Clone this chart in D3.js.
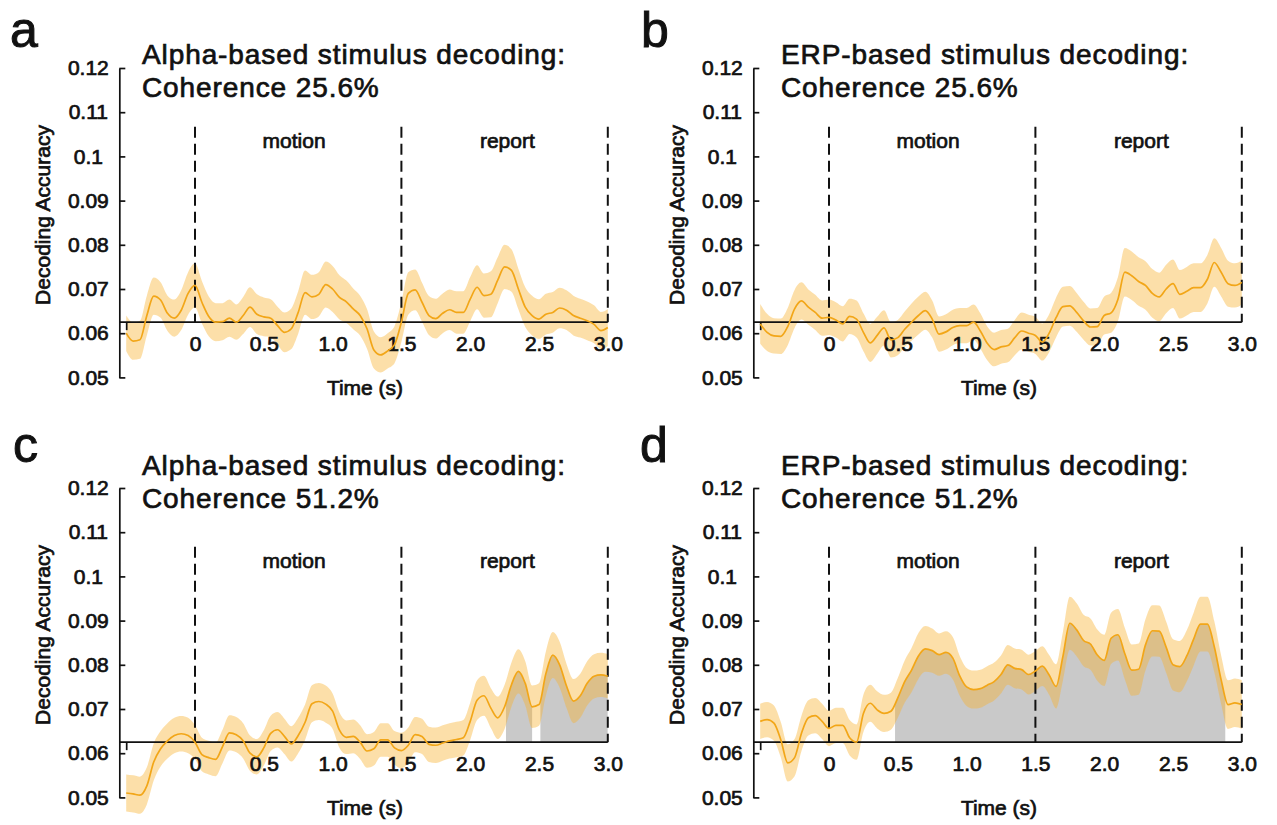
<!DOCTYPE html>
<html>
<head>
<meta charset="utf-8">
<script src="https://cdn.jsdelivr.net/npm/d3@7"></script>
<style>
  body { margin: 0; background: #fff; }
  text { font-family: "Liberation Sans", Arial, sans-serif; fill: #111; stroke: #111; stroke-width: 0.7px; }
</style>
</head>
<body>
<script>
// time grid (s)
const times = [-0.5,-0.45,-0.4,-0.35,-0.3,-0.25,-0.2,-0.15,-0.1,-0.05,
  0,0.05,0.1,0.15,0.2,0.25,0.3,0.35,0.4,0.45,
  0.5,0.55,0.6,0.65,0.7,0.75,0.8,0.85,0.9,0.95,
  1,1.05,1.1,1.15,1.2,1.25,1.3,1.35,1.4,1.45,
  1.5,1.55,1.6,1.65,1.7,1.75,1.8,1.85,1.9,1.95,
  2,2.05,2.1,2.15,2.2,2.25,2.3,2.35,2.4,2.45,
  2.5,2.55,2.6,2.65,2.7,2.75,2.8,2.85,2.9,2.95,3]

// a: alpha, 25.6%
const meanA = [0.0600,0.0582,0.0585,0.0640,0.0684,0.0675,0.0645,0.0634,0.0652,0.0690,
  0.0708,0.0670,0.0638,0.0625,0.0626,0.0634,0.0625,0.0640,0.0659,0.0643,
  0.0637,0.0634,0.0617,0.0602,0.0610,0.0647,0.0692,0.0682,0.0688,0.0710,
  0.0700,0.0681,0.0671,0.0655,0.0640,0.0610,0.0562,0.0551,0.0560,0.0574,
  0.0625,0.0690,0.0698,0.0670,0.0640,0.0633,0.0645,0.0653,0.0647,0.0647,
  0.0677,0.0704,0.0685,0.0688,0.0720,0.0750,0.0742,0.0700,0.0659,0.0640,
  0.0632,0.0643,0.0647,0.0657,0.0652,0.0640,0.0634,0.0628,0.0620,0.0606,0.0613]
const semA = [0.0040,0.0042,0.0043,0.0045,0.0042,0.0040,0.0040,0.0042,0.0045,0.0048,
  0.0050,0.0048,0.0045,0.0043,0.0042,0.0042,0.0040,0.0042,0.0045,0.0045,
  0.0044,0.0043,0.0043,0.0045,0.0046,0.0048,0.0050,0.0050,0.0050,0.0052,
  0.0052,0.0050,0.0048,0.0046,0.0045,0.0045,0.0042,0.0040,0.0040,0.0042,
  0.0045,0.0048,0.0046,0.0044,0.0044,0.0045,0.0045,0.0046,0.0048,0.0048,
  0.0050,0.0050,0.0050,0.0052,0.0052,0.0050,0.0048,0.0046,0.0045,0.0045,
  0.0045,0.0046,0.0046,0.0046,0.0045,0.0045,0.0044,0.0044,0.0043,0.0042,0.0042]

// b: ERP, 25.6%
const meanB = [0.0621,0.0602,0.0594,0.0593,0.0615,0.0655,0.0673,0.0659,0.0647,0.0634,
  0.0636,0.0630,0.0621,0.0638,0.0632,0.0602,0.0578,0.0595,0.0612,0.0585,
  0.0590,0.0609,0.0625,0.0640,0.0651,0.0632,0.0598,0.0603,0.0613,0.0617,
  0.0617,0.0625,0.0605,0.0577,0.0563,0.0569,0.0572,0.0590,0.0605,0.0600,
  0.0595,0.0580,0.0600,0.0635,0.0660,0.0662,0.0647,0.0628,0.0614,0.0615,
  0.0640,0.0646,0.0677,0.0738,0.0730,0.0717,0.0708,0.0690,0.0682,0.0700,
  0.0712,0.0688,0.0695,0.0703,0.0703,0.0722,0.0760,0.0738,0.0712,0.0708,0.0715]
const semB = [0.0045,0.0042,0.0040,0.0040,0.0042,0.0043,0.0042,0.0040,0.0040,0.0040,
  0.0040,0.0040,0.0040,0.0040,0.0042,0.0043,0.0043,0.0042,0.0040,0.0040,
  0.0040,0.0040,0.0042,0.0043,0.0043,0.0042,0.0040,0.0040,0.0040,0.0040,
  0.0040,0.0040,0.0040,0.0038,0.0038,0.0038,0.0038,0.0040,0.0042,0.0042,
  0.0042,0.0042,0.0043,0.0045,0.0045,0.0045,0.0044,0.0043,0.0042,0.0042,
  0.0043,0.0045,0.0050,0.0055,0.0055,0.0055,0.0055,0.0055,0.0055,0.0055,
  0.0055,0.0055,0.0055,0.0055,0.0055,0.0055,0.0055,0.0055,0.0052,0.0050,0.0050]

// c: alpha, 51.2%
const meanC = [0.0510,0.0508,0.0505,0.0526,0.0580,0.0610,0.0628,0.0640,0.0644,0.0640,
  0.0625,0.0597,0.0590,0.0586,0.0615,0.0646,0.0642,0.0628,0.0600,0.0592,
  0.0612,0.0645,0.0653,0.0638,0.0621,0.0640,0.0670,0.0712,0.0717,0.0711,
  0.0695,0.0652,0.0636,0.0638,0.0625,0.0605,0.0610,0.0630,0.0630,0.0612,
  0.0606,0.0618,0.0642,0.0638,0.0620,0.0618,0.0623,0.0628,0.0631,0.0635,
  0.0672,0.0720,0.0730,0.0702,0.0680,0.0705,0.0755,0.0785,0.0758,0.0705,
  0.0710,0.0780,0.0822,0.0800,0.0752,0.0718,0.0730,0.0758,0.0774,0.0777,0.0774]
const semC = [0.0042,0.0042,0.0042,0.0042,0.0042,0.0040,0.0040,0.0040,0.0040,0.0040,
  0.0038,0.0038,0.0038,0.0038,0.0038,0.0040,0.0040,0.0040,0.0040,0.0040,
  0.0040,0.0040,0.0040,0.0040,0.0040,0.0040,0.0040,0.0042,0.0042,0.0042,
  0.0040,0.0040,0.0038,0.0038,0.0038,0.0038,0.0038,0.0038,0.0038,0.0038,
  0.0040,0.0040,0.0040,0.0040,0.0040,0.0040,0.0040,0.0040,0.0040,0.0040,
  0.0042,0.0045,0.0045,0.0045,0.0048,0.0050,0.0050,0.0050,0.0050,0.0048,
  0.0048,0.0050,0.0052,0.0052,0.0050,0.0050,0.0050,0.0050,0.0050,0.0050,0.0050]

// d: ERP, 51.2%
const meanD = [0.0672,0.0676,0.0668,0.0630,0.0578,0.0590,0.0645,0.0680,0.0685,0.0672,
  0.0656,0.0663,0.0663,0.0635,0.0625,0.0690,0.0713,0.0698,0.0690,0.0695,
  0.0725,0.0762,0.0788,0.0820,0.0836,0.0832,0.0823,0.0828,0.0815,0.0775,
  0.0750,0.0744,0.0746,0.0754,0.0762,0.0778,0.0800,0.0792,0.0789,0.0778,
  0.0786,0.0797,0.0777,0.0751,0.0819,0.0894,0.0879,0.0855,0.0847,0.0822,
  0.0810,0.0860,0.0868,0.0825,0.0788,0.0790,0.0845,0.0877,0.0876,0.0840,
  0.0800,0.0796,0.0820,0.0858,0.0892,0.0892,0.0841,0.0766,0.0710,0.0714,0.0710]
const semD = [0.0040,0.0040,0.0040,0.0040,0.0042,0.0042,0.0040,0.0040,0.0040,0.0040,
  0.0040,0.0040,0.0040,0.0040,0.0040,0.0042,0.0042,0.0042,0.0042,0.0042,
  0.0045,0.0048,0.0050,0.0052,0.0052,0.0050,0.0048,0.0048,0.0048,0.0045,
  0.0043,0.0043,0.0043,0.0043,0.0043,0.0043,0.0045,0.0045,0.0045,0.0045,
  0.0045,0.0045,0.0045,0.0050,0.0055,0.0060,0.0060,0.0058,0.0058,0.0058,
  0.0058,0.0058,0.0058,0.0058,0.0058,0.0058,0.0058,0.0058,0.0058,0.0058,
  0.0058,0.0058,0.0058,0.0060,0.0062,0.0062,0.0058,0.0055,0.0055,0.0055,0.0055]

// significant windows (s)
const sigC = [[2.26, 2.45], [2.51, 3.0]]
const sigD = [[0.48, 2.88]]

const chance = 1 / 16
const events = [0, 1.5, 3.0]
const periodNames = ['motion', 'report']
const periodAt = [0.72, 2.27]
const yTicks = [0.05, 0.06, 0.07, 0.08, 0.09, 0.1, 0.11, 0.12]
const xTicks = [-0.5, 0, 0.5, 1, 1.5, 2, 2.5, 3]
const xTickLabels = ['', '0', '0.5', '1.0', '1.5', '2.0', '2.5', '3.0']

const panels = [
  {letter: 'a', title: ['Alpha-based stimulus decoding:', 'Coherence 25.6%'], mean: meanA, sem: semA, sig: []},
  {letter: 'b', title: ['ERP-based stimulus decoding:', 'Coherence 25.6%'], mean: meanB, sem: semB, sig: []},
  {letter: 'c', title: ['Alpha-based stimulus decoding:', 'Coherence 51.2%'], mean: meanC, sem: semC, sig: sigC},
  {letter: 'd', title: ['ERP-based stimulus decoding:', 'Coherence 51.2%'], mean: meanD, sem: semD, sig: sigD}
]
// where each panel sits
const layout = [
  {ox: 0, oy: 0, lx: 10, ly: 47, ty: 64},
  {ox: 634, oy: 0, lx: 641, ly: 47, ty: 64},
  {ox: 0, oy: 420, lx: 13, ly: 462, ty: 475},
  {ox: 634, oy: 420, lx: 640, ly: 462, ty: 475}
]

const width = 1277, height = 825
const lineCol = '#f2a618', bandCol = '#f9b233', grey = '#c9c9c9'

const svg = d3.select('body').append('svg')
  .attr('width', width)
  .attr('height', height)

let drawPanel = (p, L, k) => {
  const x = d3.scaleLinear().domain([-0.5, 3]).range([126.2 + L.ox, 607.8 + L.ox])
  const y = d3.scaleLinear().domain([0.05, 0.12]).range([377.4 + L.oy, 68 + L.oy])
  const g = svg.append('g')
  const pts = times.map((t, i) => ({t: t, m: p.mean[i], s: p.sem[i]}))
  const x0 = x(-0.55)

  // grey fill for significant windows
  p.sig.forEach((w, j) => {
    const id = 'clip' + k + '_' + j
    g.append('clipPath').attr('id', id)
      .append('rect')
      .attr('x', x(w[0])).attr('width', x(w[1]) - x(w[0]))
      .attr('y', y(0.12)).attr('height', y(0.05) - y(0.12))
    g.append('path')
      .datum(pts)
      .attr('clip-path', 'url(#' + id + ')')
      .attr('fill', grey)
      .attr('d', d3.area().curve(d3.curveMonotoneX)
        .x(d => x(d.t)).y0(y(chance)).y1(d => y(d.m)))
  })

  // sem band
  g.append('path')
    .datum(pts)
    .attr('fill', bandCol)
    .attr('fill-opacity', 0.42)
    .attr('d', d3.area().curve(d3.curveMonotoneX)
      .x(d => x(d.t)).y0(d => y(d.m - d.s)).y1(d => y(d.m + d.s)))

  // event markers
  g.selectAll('.ev').data(events).enter().append('line')
    .attr('x1', d => x(d)).attr('x2', d => x(d))
    .attr('y1', y(0.1067)).attr('y2', y(chance))
    .attr('stroke', '#111').attr('stroke-width', 2)
    .attr('stroke-dasharray', '11,6')

  // chance line / x axis
  g.append('line')
    .attr('x1', x0).attr('x2', x(3))
    .attr('y1', y(chance)).attr('y2', y(chance))
    .attr('stroke', '#111').attr('stroke-width', 1.7)

  const xa = g.append('g')
    .attr('transform', 'translate(0,' + y(chance) + ')')
    .call(d3.axisBottom(x).tickValues(xTicks)
      .tickFormat((d, i) => xTickLabels[i]).tickSize(8).tickPadding(6))
  xa.select('.domain').remove()
  xa.selectAll('.tick line').filter(d => d !== -0.5).remove()
  xa.selectAll('.tick line').attr('stroke', '#111').attr('stroke-width', 1.7)
  xa.selectAll('text').attr('font-size', 21).attr('fill', '#111')
    .style('font-family', '"Liberation Sans", Arial, sans-serif')

  // mean
  g.append('path')
    .datum(pts)
    .attr('fill', 'none')
    .attr('stroke', lineCol)
    .attr('stroke-width', 1.7)
    .attr('d', d3.line().curve(d3.curveMonotoneX).x(d => x(d.t)).y(d => y(d.m)))

  // y axis
  const ya = g.append('g')
    .attr('transform', 'translate(' + x0 + ',0)')
    .call(d3.axisLeft(y).tickValues(yTicks).tickFormat(d3.format('~g'))
      .tickSizeInner(-6).tickSizeOuter(0))
  ya.select('.domain').attr('stroke', '#111').attr('stroke-width', 1.7)
  ya.selectAll('.tick line').attr('stroke', '#111').attr('stroke-width', 1.7)
  ya.selectAll('text').attr('x', -31).attr('text-anchor', 'middle')
    .attr('font-size', 21).attr('fill', '#111')
    .style('font-family', '"Liberation Sans", Arial, sans-serif')

  // period labels
  g.selectAll('.per').data(periodNames).enter().append('text')
    .attr('x', (d, i) => x(periodAt[i])).attr('y', 148 + L.oy)
    .attr('text-anchor', 'middle').attr('font-size', 21)
    .text(d => d)

  g.append('text')
    .attr('x', 365 + L.ox).attr('y', 395 + L.oy)
    .attr('text-anchor', 'middle').attr('font-size', 21)
    .text('Time (s)')

  g.append('text')
    .attr('transform', 'translate(' + (50 + L.ox) + ',' + (215 + L.oy) + ') rotate(-90)')
    .attr('text-anchor', 'middle').attr('font-size', 21)
    .text('Decoding Accuracy')

  // title + letter
  g.selectAll('.tt').data(p.title).enter().append('text')
    .attr('x', 142 + L.ox - (k % 2 ? -5 : 0)).attr('y', (d, i) => L.ty + i * 33)
    .attr('font-size', 28).attr('letter-spacing', 0.9)
    .text(d => d)

  g.append('text')
    .attr('x', L.lx).attr('y', L.ly)
    .attr('font-size', 50).style('stroke-width', '1px')
    .text(p.letter)
}

panels.forEach((p, k) => drawPanel(p, layout[k], k))
</script>
</body>
</html>
